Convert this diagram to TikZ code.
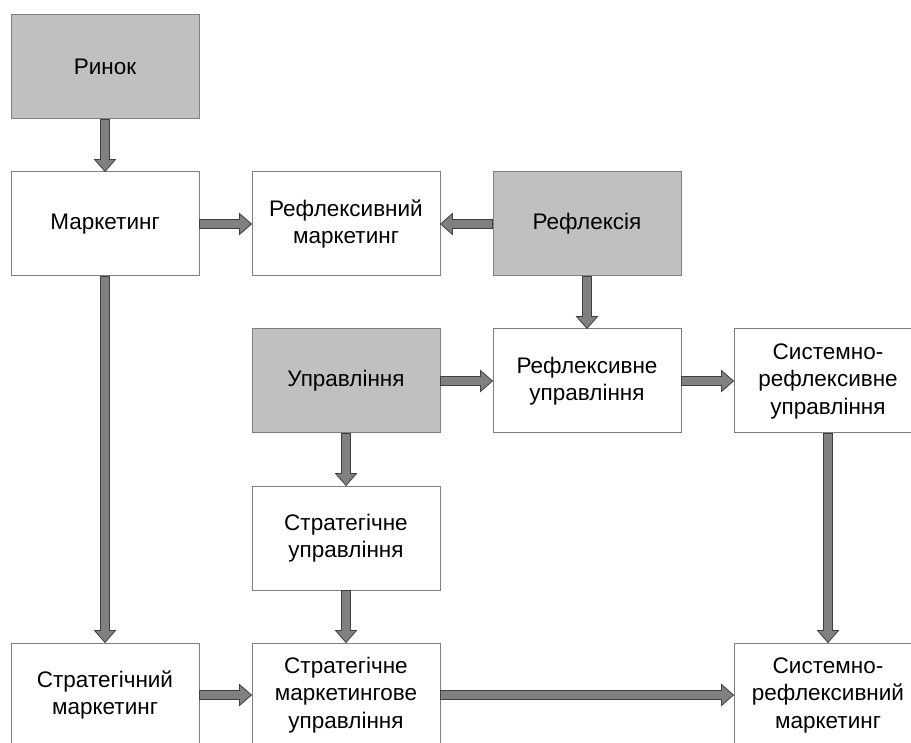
\documentclass[tikz,border=0pt]{standalone}
\usepackage{fontspec}
\setmainfont{Liberation Sans}
\usetikzlibrary{calc}
\definecolor{boxgray}{RGB}{192,192,192}
\definecolor{edgegray}{RGB}{128,128,128}
\definecolor{arrowfill}{RGB}{128,128,128}
\definecolor{arrowedge}{RGB}{64,64,64}
\tikzset{
  box/.style={draw=edgegray, line width=1pt, fill=white, minimum width=188pt, minimum height=104pt,
    inner sep=0pt, align=center, font=\fontsize{22.5}{27.5}\selectfont},
  shaded/.style={box, fill=boxgray},
  blockarrow/.style={fill=arrowfill, draw=arrowedge, line width=0.8pt, line join=miter}
}
\newcommand\barrow[2]{%
  \coordinate (bA) at (#1);
  \coordinate (bB) at (#2);
  \coordinate (bN) at ($(bB)!12pt!(bA)$);
  \draw[blockarrow] ($(bA)!4.5pt!90:(bB)$) -- ($(bN)!4.5pt!90:(bB)$) -- ($(bN)!10.5pt!90:(bB)$)
    -- (bB) -- ($(bN)!10.5pt!-90:(bB)$) -- ($(bN)!4.5pt!-90:(bB)$) -- ($(bA)!4.5pt!-90:(bB)$) -- cycle;
}
\begin{document}
\begin{tikzpicture}[x=1pt,y=-1pt]
\useasboundingbox (0,0) rectangle (911,743);
\clip (0,0) rectangle (911,743);
\node[shaded] (rynok) at (105,67) {Ринок};
\node[box] (mark) at (105,224) {Маркетинг};
\node[box] (refmark) at (346,224) {Рефлексивний\\маркетинг};
\node[shaded] (refl) at (587,224) {Рефлексія};
\node[shaded] (upr) at (346,381) {Управління};
\node[box] (refupr) at (587,381) {Рефлексивне\\управління};
\node[box] (sysupr) at (828,381) {Системно-\\рефлексивне\\управління};
\node[box] (strupr) at (346,538) {Стратегічне\\управління};
\node[box] (strmark) at (105,695) {Стратегічний\\маркетинг};
\node[box] (strmarkupr) at (346,695) {Стратегічне\\маркетингове\\управління};
\node[box] (sysmark) at (828,695) {Системно-\\рефлексивний\\маркетинг};
\barrow{rynok.south}{mark.north}
\barrow{mark.east}{refmark.west}
\barrow{refl.west}{refmark.east}
\barrow{refl.south}{refupr.north}
\barrow{upr.east}{refupr.west}
\barrow{refupr.east}{sysupr.west}
\barrow{upr.south}{strupr.north}
\barrow{mark.south}{strmark.north}
\barrow{strupr.south}{strmarkupr.north}
\barrow{sysupr.south}{sysmark.north}
\barrow{strmark.east}{strmarkupr.west}
\barrow{strmarkupr.east}{sysmark.west}
\end{tikzpicture}
\end{document}
